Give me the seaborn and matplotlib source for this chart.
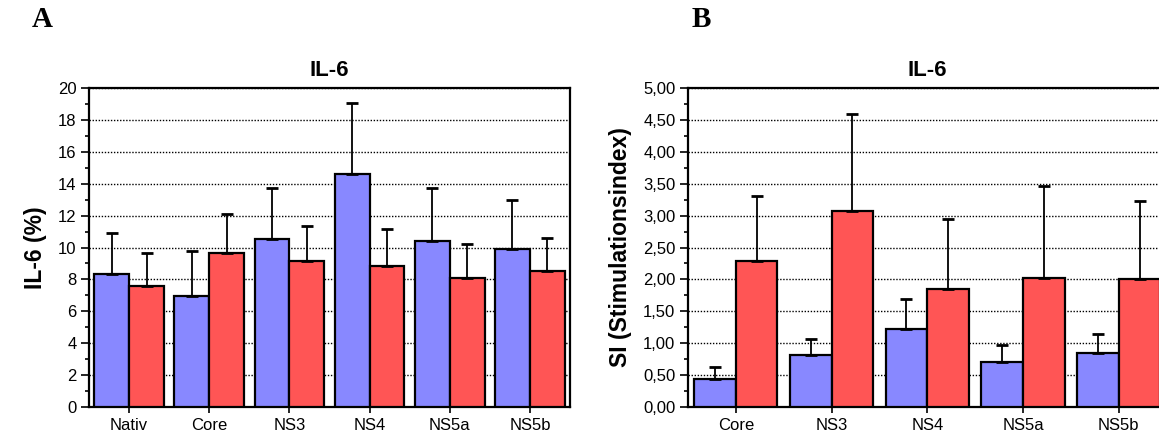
import numpy as np
import pandas as pd
import matplotlib
matplotlib.use("Agg")
import matplotlib.pyplot as plt
from matplotlib.ticker import MultipleLocator, FixedLocator, FixedFormatter
import seaborn as sns

# ---------------- data ----------------
cats_a = ["Nativ", "Core", "NS3", "NS4", "NS5a", "NS5b"]
blue_a = [8.33, 6.97, 10.52, 14.58, 10.42, 9.90]
blue_a_err = [10.94, 9.79, 13.72, 19.06, 13.72, 13.01]   # top of error bar
red_a = [7.60, 9.64, 9.16, 8.85, 8.12, 8.54]
red_a_err = [9.65, 12.09, 11.34, 11.13, 10.21, 10.61]

cats_b = ["Core", "NS3", "NS4", "NS5a", "NS5b"]
blue_b = [0.435, 0.81, 1.22, 0.70, 0.84]
blue_b_err = [0.62, 1.06, 1.69, 0.97, 1.14]
red_b = [2.29, 3.07, 1.85, 2.03, 2.01]
red_b_err = [3.31, 4.59, 2.94, 3.47, 3.23]

series_names = ["Serie 1", "Serie 2"]
yticks_a = [0, 2, 4, 6, 8, 10, 12, 14, 16, 18, 20]
yticks_b = [0.0, 0.5, 1.0, 1.5, 2.0, 2.5, 3.0, 3.5, 4.0, 4.5, 5.0]
yticklabels_b = ["0,00", "0,50", "1,00", "1,50", "2,00", "2,50", "3,00", "3,50", "4,00", "4,50", "5,00"]

BLUE = "#8888FF"
RED = "#FF5555"

sns.set_theme(style="white")
plt.rcParams["font.family"] = ["Liberation Sans", "DejaVu Sans"]
plt.rcParams["text.color"] = "black"
plt.rcParams["axes.labelcolor"] = "black"
plt.rcParams["xtick.color"] = "black"
plt.rcParams["ytick.color"] = "black"

fig = plt.figure(figsize=(11.59, 4.37), dpi=100)
axA = fig.add_axes([0.0768, 0.0686, 0.415, 0.730])
axB = fig.add_axes([0.5936, 0.0686, 0.4130, 0.730])


def draw(ax, cats, b, be, r, re, ylim, yticks, yticklabels, minor, ylabel):
    df = pd.DataFrame({
        "cat": cats * 2,
        "val": list(b) + list(r),
        "series": [series_names[0]] * len(cats) + [series_names[1]] * len(cats),
    })
    sns.barplot(data=df, x="cat", y="val", hue="series", order=cats,
                hue_order=series_names, palette=[BLUE, RED], width=0.87,
                edgecolor="black", linewidth=1.6, saturation=1, errorbar=None,
                ax=ax, legend=False, zorder=3)
    for cont, vals, tops in zip(ax.containers, [b, r], [be, re]):
        xs = [p.get_x() + p.get_width() / 2 for p in cont.patches]
        up = np.array(tops) - np.array(vals)
        ax.errorbar(xs, vals, yerr=[np.zeros(len(vals)), up], fmt="none",
                    ecolor="black", elinewidth=1.3, capsize=4, capthick=2,
                    zorder=4)
    ax.set_xlim(-0.5, len(cats) - 0.5)
    ax.set_ylim(*ylim)
    ax.yaxis.set_major_locator(FixedLocator(yticks))
    if yticklabels is not None:
        ax.yaxis.set_major_formatter(FixedFormatter(yticklabels))
    ax.yaxis.set_minor_locator(MultipleLocator(minor))
    ax.yaxis.grid(True, which="major", linestyle=(0, (1, 1.2)), color="black",
                  linewidth=1.0, zorder=0)
    ax.set_axisbelow(True)
    ax.tick_params(axis="y", which="major", left=True, length=6, width=1.2,
                   direction="out", labelsize=12, pad=3, color="black",
                   labelcolor="black")
    ax.tick_params(axis="y", which="minor", left=True, length=3, width=1.2,
                   direction="out", color="black")
    ax.tick_params(axis="x", bottom=True, length=4, width=1.2, direction="out",
                   labelsize=12, pad=4, color="black", labelcolor="black")
    for s in ax.spines.values():
        s.set_visible(True)
        s.set_color("black")
        s.set_linewidth(1.6)
    ax.set_xlabel("")
    ax.set_ylabel(ylabel, fontsize=16.5, fontweight="bold", labelpad=8,
                  color="black")
    ax.set_title("IL-6", fontsize=16, fontweight="bold", pad=9, color="black")


draw(axA, cats_a, blue_a, blue_a_err, red_a, red_a_err, (0, 20), yticks_a,
     None, 1, "IL-6 (%)")
draw(axB, cats_b, blue_b, blue_b_err, red_b, red_b_err, (0, 5), yticks_b,
     yticklabels_b, 0.25, "SI (Stimulationsindex)")

fig.text(0.027, 0.955, "A", fontsize=21, fontweight="bold", color="black",
         family=["Liberation Serif"], va="center", ha="left")
fig.text(0.597, 0.955, "B", fontsize=21, fontweight="bold", color="black",
         family=["Liberation Serif"], va="center", ha="left")

fig.savefig("out.png", dpi=100)
